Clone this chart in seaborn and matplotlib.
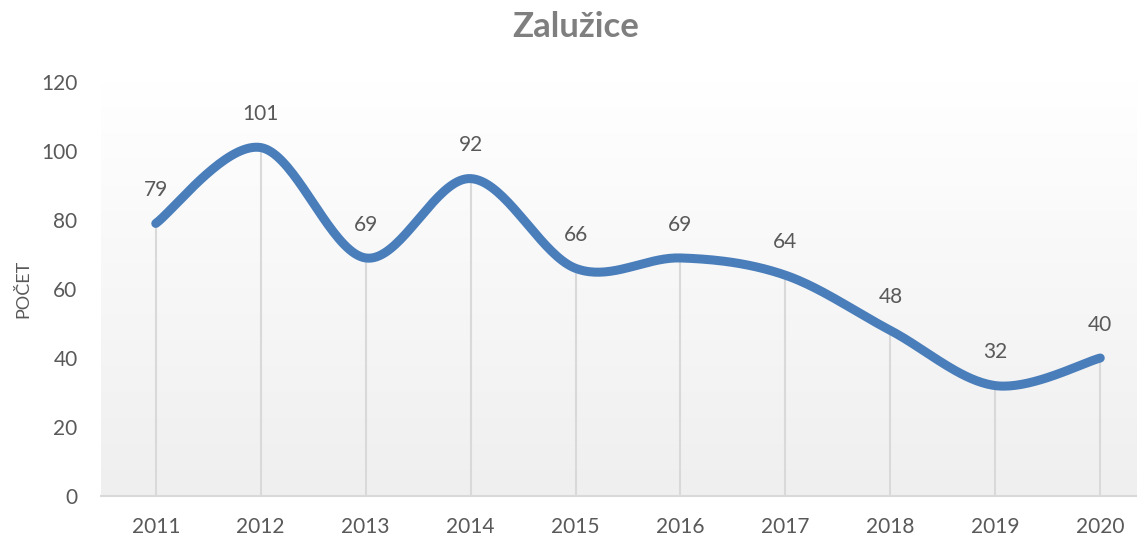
import numpy as np
import pandas as pd
import matplotlib
matplotlib.use("Agg")
import matplotlib.pyplot as plt
import seaborn as sns

years = ["2011", "2012", "2013", "2014", "2015", "2016", "2017", "2018", "2019", "2020"]
counts = [79, 101, 69, 92, 66, 69, 64, 48, 32, 40]

sns.set_style("white")
plt.rcParams['font.family'] = ['Lato', 'DejaVu Sans']

# Excel-like smoothed line (cubic bezier with catmull-rom control points)
def smooth(xv, yv, n=40):
    pts = np.column_stack([xv, yv]).astype(float)
    p = np.vstack([pts[0], pts, pts[-1]])
    out = []
    for i in range(1, len(p) - 2):
        p0, p1, p2, p3 = p[i - 1], p[i], p[i + 1], p[i + 2]
        c1 = p1 + (p2 - p0) / 6
        c2 = p2 - (p3 - p1) / 6
        t = np.linspace(0, 1, n)[:, None]
        seg = (1 - t) ** 3 * p1 + 3 * (1 - t) ** 2 * t * c1 + 3 * (1 - t) * t ** 2 * c2 + t ** 3 * p2
        out.append(seg if i == 1 else seg[1:])
    out = np.vstack(out)
    return out[:, 0], out[:, 1]

xpos = np.arange(len(years))
sx, sy = smooth(xpos, counts)
df = pd.DataFrame({"x": sx, "y": sy})

fig = plt.figure(figsize=(11.37, 5.36), dpi=100)
ax = fig.add_axes([0.089, 0.0746, 0.911, 0.7724])

# gradient background
grad = np.linspace(1.0, 0.0, 256)[:, None]
ax.imshow(grad, extent=[0, 1, 0, 1], transform=ax.transAxes, aspect="auto",
          cmap=matplotlib.colors.LinearSegmentedColormap.from_list("g", ["#efefef", "#ffffff"]),
          zorder=0)

# drop lines
ax.vlines(xpos, 0, counts, color="#d9d9d9", lw=1.5, zorder=1)

sns.lineplot(data=df, x="x", y="y", ax=ax, color="#4a7ebb", lw=6.5,
             solid_capstyle="round", zorder=3, sort=False)

for x, v in zip(xpos, counts):
    ax.annotate(str(v), (x, v), xytext=(0, 24), textcoords="offset points",
                ha="center", va="center", fontsize=15, color="#595959")

ax.set_xlim(-0.52, 9.35)
ax.set_ylim(0, 120)
ax.set_xticks(xpos)
ax.set_xticklabels(years)
ax.set_yticks(range(0, 121, 20))
ax.tick_params(axis="both", length=0, labelsize=15, labelcolor="#595959")
ax.tick_params(axis="x", pad=15)
ax.tick_params(axis="y", pad=17)
for s in ["top", "right", "left"]:
    ax.spines[s].set_visible(False)
ax.spines["bottom"].set_color("#d9d9d9")
ax.spines["bottom"].set_linewidth(1.5)
ax.set_xlabel("")
ax.set_ylabel("POČET", fontsize=13, color="#595959", labelpad=7)

fig.text(0.506, 0.95, "Zalužice", ha="center", va="center", fontsize=25,
         fontweight="bold", color="#7f7f7f")

fig.savefig("out.png", dpi=100)
